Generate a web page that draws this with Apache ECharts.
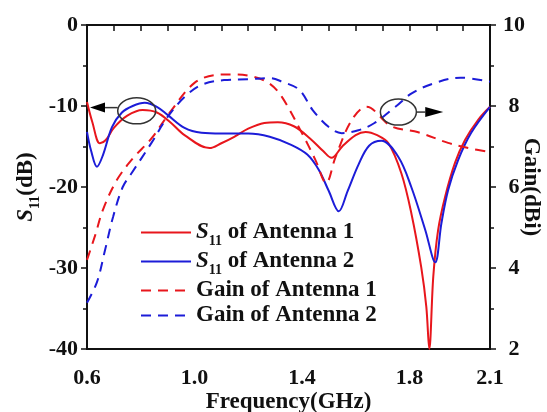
<!DOCTYPE html>
<html>
<head>
<meta charset="utf-8">
<script src="https://cdn.jsdelivr.net/npm/echarts@6/dist/echarts.min.js"></script>
<style>
html,body{margin:0;padding:0;background:#fff;overflow:hidden;}
#chart{width:547px;height:412px;}
</style>
</head>
<body>
<div id="chart"></div>
<script>
// ---- Data ----
const xTickLabels = [0.6, 1.0, 1.4, 1.8, 2.1];

const s11Ant1Freq = [0.6, 0.62, 0.648, 0.67, 0.7, 0.75, 0.807, 0.86, 0.91, 0.963, 1.056, 1.1, 1.148, 1.2, 1.26, 1.31, 1.37, 1.43, 1.48, 1.51, 1.55, 1.6, 1.637, 1.68, 1.722, 1.77, 1.807, 1.844, 1.863, 1.874, 1.889, 1.907, 1.933, 1.97, 2.007, 2.056, 2.1];
const s11Ant1 = [-9.5, -12.0, -14.6, -14.2, -12.7, -11.2, -10.5, -10.8, -12.0, -13.6, -15.2, -14.6, -13.8, -12.8, -12.1, -12.0, -12.5, -14.0, -15.6, -16.4, -15.0, -13.6, -13.2, -13.6, -14.6, -18.3, -23.2, -29.9, -34.8, -40, -31, -25.3, -21.2, -17.0, -14.2, -11.7, -10.1];

const s11Ant2Freq = [0.6, 0.615, 0.637, 0.66, 0.693, 0.73, 0.77, 0.815, 0.86, 0.9, 0.963, 1.026, 1.1, 1.2, 1.28, 1.36, 1.42, 1.463, 1.5, 1.537, 1.57, 1.611, 1.65, 1.696, 1.759, 1.807, 1.859, 1.896, 1.919, 1.944, 1.981, 2.03, 2.1];
const s11Ant2 = [-13.2, -15.5, -17.5, -16.0, -12.6, -10.8, -10.0, -9.6, -10.1, -11.1, -12.7, -13.3, -13.4, -13.4, -13.8, -14.8, -16.0, -17.9, -20.5, -23.0, -20.5, -17.2, -14.9, -14.3, -16.3, -20.0, -25.3, -29.3, -24.5, -20.4, -16.7, -13.3, -10.1];

const gainAnt1Freq = [0.6, 0.63, 0.66, 0.711, 0.77, 0.84, 0.915, 1.0, 1.085, 1.15, 1.22, 1.28, 1.326, 1.4, 1.45, 1.49, 1.525, 1.585, 1.64, 1.733, 1.833, 1.944, 2.02, 2.1];
const gainAnt1 = [4.2, 4.8, 5.45, 6.17, 6.7, 7.2, 7.9, 8.57, 8.77, 8.78, 8.72, 8.55, 8.22, 7.33, 6.67, 6.1, 6.74, 7.65, 7.98, 7.5, 7.35, 7.09, 6.96, 6.86];

const gainAnt2Freq = [0.6, 0.637, 0.667, 0.697, 0.733, 0.767, 0.84, 0.9, 0.963, 1.026, 1.11, 1.2, 1.28, 1.326, 1.39, 1.44, 1.5, 1.548, 1.61, 1.67, 1.748, 1.81, 1.896, 1.99, 2.1];
const gainAnt2 = [3.14, 3.65, 4.44, 5.26, 6.0, 6.35, 7.09, 7.73, 8.22, 8.52, 8.64, 8.66, 8.69, 8.6, 8.4, 7.9, 7.48, 7.33, 7.4, 7.58, 7.98, 8.32, 8.57, 8.7, 8.6];

const seriesNames = ['S11 of Antenna 1', 'S11 of Antenna 2', 'Gain of Antenna 1', 'Gain of Antenna 2'];

// annotation anchors in data coordinates
const leftAnno = { center: [0.785, -10.6], tip: [0.6, -10.2] };
const rightAnno = { center: [1.759, 7.85], tip: [1.926, 7.85] };

// ---- Styles ----
const RED = '#e8161c';
const BLUE = '#1c1cd8';
const FONT = 'Liberation Serif';
const INK = '#111';

function pairs(xs, ys) { return xs.map((x, i) => [x, ys[i]]); }

const chart = echarts.init(document.getElementById('chart'), null, { renderer: 'canvas' });

const richBase = {
  i: { fontFamily: FONT, fontWeight: 'bold', fontStyle: 'italic', fontSize: 23, color: INK },
  s: { fontFamily: FONT, fontWeight: 'bold', fontSize: 14, color: INK, verticalAlign: 'bottom', padding: [0, 0, -4, 0] },
  b: { fontFamily: FONT, fontWeight: 'bold', fontSize: 23, color: INK }
};

function lineSeries(name, xs, ys, color, dashed, yIdx) {
  return {
    name: name,
    type: 'line',
    yAxisIndex: yIdx,
    data: pairs(xs, ys),
    smooth: 0.35,
    symbol: 'none',
    clip: true,
    lineStyle: { color: color, width: 2, type: dashed ? [10, 7] : 'solid' },
    itemStyle: { color: color }
  };
}

const option = {
  animation: false,
  backgroundColor: '#fff',
  grid: { left: 87, right: 57, top: 25, bottom: 63, containLabel: false, outerBoundsMode: 'none', show: true, borderColor: INK, borderWidth: 2, backgroundColor: 'transparent' },
  legend: {
    orient: 'vertical',
    left: 135,
    top: 216,
    itemWidth: 50,
    itemHeight: 14,
    itemGap: 2,
    data: seriesNames,
    itemStyle: { color: 'transparent', borderColor: 'transparent', borderWidth: 0, opacity: 0 },
    textStyle: { fontFamily: FONT, fontWeight: 'bold', fontSize: 23, color: INK, rich: richBase },
    formatter: function (name) {
      if (name.indexOf('S11') === 0) {
        return '{i|S}{s|11}{b|' + name.slice(3) + '}';
      }
      return '{b|' + name + '}';
    }
  },
  xAxis: {
    type: 'value',
    min: 0.6,
    max: 2.1,
    interval: 0.1,
    name: 'Frequency(GHz)',
    nameLocation: 'middle',
    nameGap: 42,
    nameMoveOverlap: false,
    nameTextStyle: { fontFamily: FONT, fontWeight: 'bold', fontSize: 23, color: INK },
    axisLine: { lineStyle: { color: INK, width: 2 } },
    axisTick: { show: true, inside: false, length: 6, lineStyle: { color: INK, width: 1.5 } },
    splitLine: { show: false },
    axisLabel: {
      margin: 18,
      fontFamily: FONT, fontWeight: 'bold', fontSize: 22, color: INK,
      showMinLabel: true, showMaxLabel: true,
      formatter: function (v) {
        const r = Math.round(v * 10) / 10;
        return xTickLabels.some(t => Math.abs(t - r) < 1e-6) ? r.toFixed(1) : '';
      }
    }
  },
  yAxis: [
    {
      type: 'value',
      min: -40, max: 0, interval: 10,
      position: 'left',
      name: '{i|S}{s|11}{b|(dB)}',
      nameLocation: 'middle',
      nameGap: 49,
      nameRotate: 90,
      nameMoveOverlap: false,
      nameTextStyle: { rich: richBase, fontFamily: FONT, fontWeight: 'bold', fontSize: 23, color: INK },
      axisLine: { show: true, lineStyle: { color: INK, width: 2 } },
      axisTick: { show: true, inside: false, length: 6, lineStyle: { color: INK, width: 1.5 } },
      minorTick: { show: true, splitNumber: 2, length: 4, lineStyle: { color: INK, width: 1.5 } },
      splitLine: { show: false },
      axisLabel: { margin: 9, fontFamily: FONT, fontWeight: 'bold', fontSize: 22, color: INK }
    },
    {
      type: 'value',
      min: 2, max: 10, interval: 2,
      position: 'right',
      name: 'Gain(dBi)',
      nameLocation: 'middle',
      nameGap: 29,
      nameRotate: -90,
      nameMoveOverlap: false,
      nameTextStyle: { fontFamily: FONT, fontWeight: 'bold', fontSize: 23, color: INK },
      axisLine: { show: true, lineStyle: { color: INK, width: 2 } },
      axisTick: { show: true, inside: false, length: 6, lineStyle: { color: INK, width: 1.5 } },
      minorTick: { show: true, splitNumber: 2, length: 4, lineStyle: { color: INK, width: 1.5 } },
      splitLine: { show: false },
      axisLabel: { margin: 24, align: 'center', fontFamily: FONT, fontWeight: 'bold', fontSize: 22, color: INK }
    }
  ],
  series: [
    lineSeries(seriesNames[0], s11Ant1Freq, s11Ant1, RED, false, 0),
    lineSeries(seriesNames[1], s11Ant2Freq, s11Ant2, BLUE, false, 0),
    lineSeries(seriesNames[2], gainAnt1Freq, gainAnt1, RED, true, 1),
    lineSeries(seriesNames[3], gainAnt2Freq, gainAnt2, BLUE, true, 1)
  ]
};

chart.setOption(option);

// ---- Annotations: ellipses with arrows, anchored by data coordinates ----
function px(pt, yIdx) { return chart.convertToPixel({ xAxisIndex: 0, yAxisIndex: yIdx }, pt); }
const lc = px(leftAnno.center, 0), lt = px(leftAnno.tip, 0);
const rc = px(rightAnno.center, 1), rt = px(rightAnno.tip, 1);
const ANNO = '#333';
const L_RX = 19, L_RY = 13, R_RX = 18, R_RY = 13, HEAD = 18, HALF = 5;

chart.setOption({
  graphic: [
    { type: 'ellipse', shape: { cx: lc[0], cy: lc[1], rx: L_RX, ry: L_RY }, style: { fill: 'none', stroke: ANNO, lineWidth: 1.5 }, z: 100 },
    { type: 'line', shape: { x1: lt[0] + HEAD, y1: lt[1], x2: lc[0] - L_RX, y2: lt[1] }, style: { stroke: ANNO, lineWidth: 1.5 }, z: 100 },
    { type: 'polygon', shape: { points: [[lt[0] + 3, lt[1]], [lt[0] + HEAD, lt[1] - HALF], [lt[0] + HEAD, lt[1] + HALF]] }, style: { fill: '#000' }, z: 100 },
    { type: 'ellipse', shape: { cx: rc[0], cy: rc[1], rx: R_RX, ry: R_RY }, style: { fill: 'none', stroke: ANNO, lineWidth: 1.5 }, z: 100 },
    { type: 'line', shape: { x1: rc[0] + R_RX, y1: rt[1], x2: rt[0] - HEAD, y2: rt[1] }, style: { stroke: ANNO, lineWidth: 1.5 }, z: 100 },
    { type: 'polygon', shape: { points: [[rt[0], rt[1]], [rt[0] - HEAD, rt[1] - HALF], [rt[0] - HEAD, rt[1] + HALF]] }, style: { fill: '#000' }, z: 100 }
  ]
});
</script>
</body>
</html>
